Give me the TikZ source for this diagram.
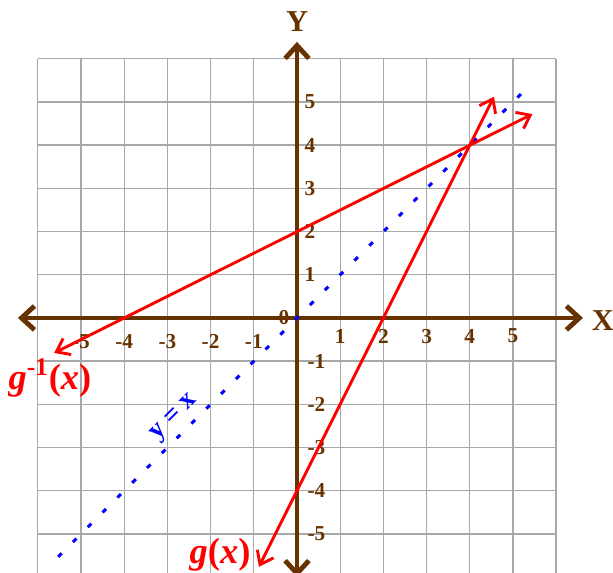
\documentclass[tikz,border=0pt]{standalone}
\usepackage{fontspec}
\setmainfont{Liberation Serif}
\usetikzlibrary{arrows.meta}

\definecolor{axbrown}{RGB}{102,51,0}
\definecolor{gridgray}{RGB}{168,168,168}

\begin{document}
\begin{tikzpicture}[
  >={Straight Barb[length=0.3cm, width=0.55cm]},
  gridln/.style={draw=gridgray, line width=0.9pt},
  ax/.style={draw=axbrown, line width=3.2pt, <->},
  tick/.style={text=axbrown, font=\fontsize{14}{16}\selectfont\bfseries, inner sep=0pt},
  axlbl/.style={text=axbrown, font=\fontsize{20}{22}\selectfont\bfseries, inner sep=0pt},
  fn/.style={draw=red, line width=1.9pt, <->, >={Straight Barb[length=0.28cm, width=0.42cm]}},
  fnlbl/.style={text=red, font=\fontsize{24}{28}\selectfont\bfseries, inner sep=0pt},
  idln/.style={draw=blue, line width=2pt, dash pattern=on 3.3pt off 10.5pt}
]
\useasboundingbox (-6.875,-5.9) rectangle (7.315,7.36);

% Gitter
\draw[gridln] (-6,-6) grid (6,6);

% -- Achsen --
\coordinate (xl) at (-6.46,0);
\coordinate (xr) at (6.62,0);
\coordinate (yb) at (0,-6);
\coordinate (yt) at (0,6.39);
\draw[ax] (xl) -- (xr);
\draw[ax] (yb) -- (yt);
\node[axlbl] (xname) at (7.08,-0.05) {X};
\node[axlbl] (yname) at (0,6.85) {Y};

% -- Beschriftung --
\foreach \k in {1,...,5} {
  \node[tick] (xp\k) at (\k,-0.42) {\k};
  \node[tick] (xn\k) at (-\k,-0.54) {-\k};
  \node[tick] (yp\k) at (0.3,\k) {\k};
  \node[tick] (yn\k) at (0.45,-\k) {-\k};
}
\node[tick] (orig) at (-0.3,0) {0};

% -- y = x --
\coordinate (idA) at (-5.53,-5.53);
\coordinate (idB) at (5.38,5.38);
\draw[idln] (idA) -- (idB);
\node[text=blue, font=\fontsize{18}{20}\selectfont\bfseries, rotate=45, inner sep=0pt]
     (idlbl) at (-2.82,-2.32) {y = x};

% -- g und Umkehrfunktion --
\coordinate (giA) at (-5.62,-0.81);
\coordinate (giB) at (5.45,4.72);
\coordinate (gA) at (-0.88,-5.76);
\coordinate (gB) at (4.56,5.12);
\draw[fn] (giA) -- (giB);
\draw[fn] (gA) -- (gB);
\node[fnlbl] (gilbl) at (-5.72,-1.39) {\textit{g}\textsuperscript{-1}(\textit{x})};
\node[fnlbl] (glbl) at (-1.78,-5.49) {\textit{g}(\textit{x})};

\end{tikzpicture}
\end{document}
